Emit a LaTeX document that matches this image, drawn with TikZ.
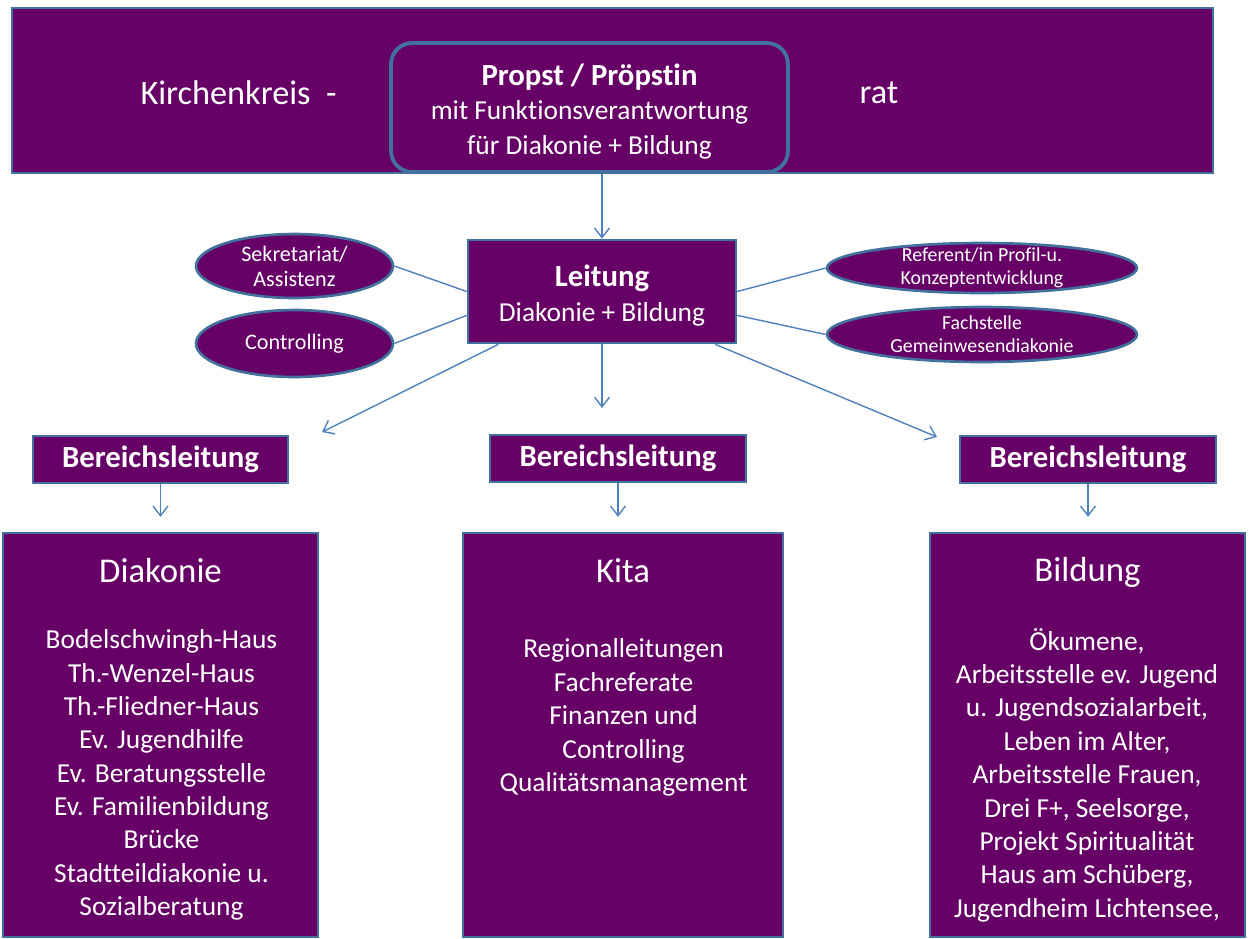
\documentclass[tikz,border=0pt]{standalone}
\usepackage{fontspec}
\setmainfont{Carlito}[Ligatures=NoCommon]
\usepackage{tikz}
\usetikzlibrary{positioning, arrows.meta, shapes.geometric}

\definecolor{kkpurple}{RGB}{102,0,102}
\definecolor{kkborder}{RGB}{65,113,156}
\definecolor{kkline}{RGB}{79,129,189}

\newcommand{\kkhead}{\fontsize{19.5pt}{22pt}\selectfont}
\newcommand{\kkbig}{\fontsize{17.5pt}{20pt}\selectfont\bfseries}
\newcommand{\kkmid}{\fontsize{15.6pt}{19.8pt}\selectfont}
\newcommand{\kklist}{\fontsize{15.6pt}{19pt}\selectfont}
\newcommand{\kktitle}{\fontsize{19.8pt}{22pt}\selectfont}
\newcommand{\kkoval}{\fontsize{12.6pt}{14.2pt}\selectfont}
\newcommand{\kksmall}{\fontsize{11.3pt}{13pt}\selectfont}

\begin{document}
\begin{tikzpicture}[x=0.02cm, y=-0.02cm,
    box/.style={draw=kkborder, line width=1.5pt, fill=kkpurple, text=white, align=center, inner sep=0pt},
    oval/.style={ellipse, draw=kkborder, line width=1.5pt, fill=kkpurple, inner sep=0pt},
    txt/.style={text=white, align=center, inner sep=0pt},
    link/.style={draw=kkline, line width=0.8pt},
    arr/.style={link, -{Straight Barb[length=5.5pt,width=8.5pt]}}]
    \useasboundingbox (0,0) rectangle (1250,938);

    % Kopfzeile
    \node [box, minimum width=24.02cm, minimum height=3.3cm] (kkrat) at (612.5,90.5) {};
    \node [txt, font=\kkhead] (kktext) at (238.5,93) {Kirchenkreis\ \ -};
    \node [txt, font=\kkhead] (rattext) at (879,93) {rat};
    \node [box, line width=2.2pt, rounded corners=12pt, minimum width=7.94cm, minimum height=2.58cm,
        label={[txt, font=\kkmid, yshift=-2.3pt]center:{\kkbig Propst / Pröpstin}\\ mit Funktionsverantwortung\\ für Diakonie + Bildung}]
        (propst) at (589.5,107.5) {};

    % Leitung und Stabsstellen
    \node [box, minimum width=5.36cm, minimum height=2.06cm,
        label={[txt, font=\kkmid, yshift=-2.3pt]center:{\kkbig Leitung}\\ Diakonie + Bildung}] (leitung) at (602,291.5) {};
    \node [oval, minimum width=3.94cm, minimum height=1.28cm,
        label={[txt, font=\kkoval]center:Sekretariat/\\Assistenz}] (sekr) at (294.5,266) {};
    \node [oval, minimum width=3.94cm, minimum height=1.34cm,
        label={[txt, font=\kkoval]center:Controlling}] (ctrl) at (294.5,343.5) {};
    \node [oval, minimum width=6.2cm, minimum height=1.0cm,
        label={[txt, font=\kksmall]center:Referent/in Profil-u.\\Konzeptentwicklung}] (ref) at (982,268) {};
    \node [oval, minimum width=6.2cm, minimum height=1.1cm,
        label={[txt, font=\kksmall]center:Fachstelle\\Gemeinwesendiakonie}] (fach) at (982,334.5) {};

    % Bereichsleitungen
    \node [box, minimum width=5.1cm, minimum height=0.94cm, font=\kkbig] (blDia) at (160.5,459.5) {Bereichsleitung};
    \node [box, minimum width=5.12cm, minimum height=0.94cm, font=\kkbig] (blKita) at (618,458.5) {Bereichsleitung};
    \node [box, minimum width=5.12cm, minimum height=0.94cm, font=\kkbig] (blBild) at (1088,459.5) {Bereichsleitung};

    % Bereiche
    \node [box, minimum width=6.3cm, minimum height=8.08cm] (dia) at (160.5,735) {};
    \node [box, minimum width=6.4cm, minimum height=8.08cm] (kita) at (623,735) {};
    \node [box, minimum width=6.3cm, minimum height=8.08cm] (bild) at (1087.5,735) {};
    \node [txt, font=\kktitle] (diaTitle) at (160.5,571) {Diakonie};
    \node [txt, font=\kktitle] (kitaTitle) at (623,571) {Kita};
    \node [txt, font=\kktitle] (bildTitle) at (1087.5,572) {Bildung};
    \node [txt, font=\kklist] (diaList) at (161.5,775) {Bodelschwingh-Haus\\ Th.-Wenzel-Haus\\ Th.-Fliedner-Haus\\
        Ev. Jugendhilfe\\ Ev. Beratungsstelle\\ Ev. Familienbildung\\ Brücke\\ Stadtteildiakonie u.\\ Sozialberatung};
    \node [txt, font=\kklist] (kitaList) at (623.5,717.5) {Regionalleitungen\\ Fachreferate\\ Finanzen und\\
        Controlling\\ Qualitätsmanagement};
    \node [txt, font=\kklist] (bildList) at (1087,775) {Ökumene,\\ Arbeitsstelle ev. Jugend\\ u. Jugendsozialarbeit,\\
        Leben im Alter,\\ Arbeitsstelle Frauen,\\ Drei F+, Seelsorge,\\ Projekt Spiritualität\\ Haus am Schüberg,\\ Jugendheim Lichtensee,};

    % Verbindungen
    \coordinate (tipL) at (322,432);
    \coordinate (tipM) at (602,408);
    \coordinate (tipR) at (937,437);
    \draw [arr] (leitung.north |- propst.south) -- (leitung.north);
    \draw [link] (sekr.east) -- (leitung.west);
    \draw [link] (ctrl.east) -- (leitung.190);
    \draw [link] (ref.west) -- (leitung.east);
    \draw [link] (fach.west) -- (leitung.350);
    \draw [arr] (leitung.207) -- (tipL);
    \draw [arr] (leitung.south) -- (tipM);
    \draw [arr] (leitung.335) -- (tipR);
    \draw [arr, shorten >=8.5pt] (blDia.south) -- (dia.north -| blDia.south);
    \draw [arr, shorten >=8.5pt] (blKita.south) -- (kita.north -| blKita.south);
    \draw [arr, shorten >=8.5pt] (blBild.south) -- (bild.north -| blBild.south);
\end{tikzpicture}
\end{document}
